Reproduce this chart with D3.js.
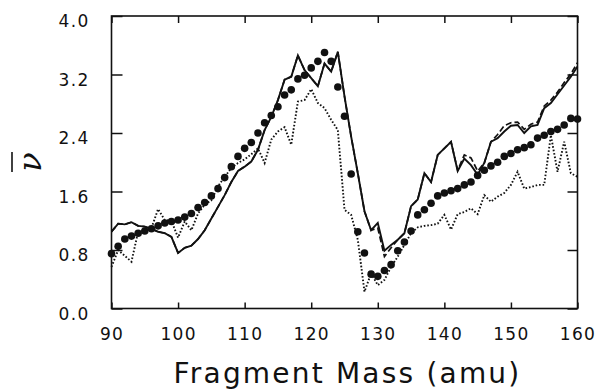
<!DOCTYPE html>
<html><head><meta charset="utf-8">
<script src="https://cdn.jsdelivr.net/npm/d3@7"></script>
<style>
html,body{margin:0;padding:0;background:#fff;}
svg{display:block;}
text{fill:#111;font-family:"DejaVu Sans",sans-serif;}
</style></head>
<body>
<svg id="chart" width="600" height="391"></svg>
<script>
const masses = [90,91,92,93,94,95,96,97,98,99,100,101,102,103,104,105,106,107,108,109,110,
  111,112,113,114,115,116,117,118,119,120,121,122,123,124,125,126,127,128,129,130,
  131,132,133,134,135,136,137,138,139,140,141,142,143,144,145,146,147,148,149,150,
  151,152,153,154,155,156,157,158,159,160];

// filled circles
const dotValues = [0.75,0.85,0.95,0.99,1.03,1.06,1.09,1.13,1.17,1.19,1.21,1.25,1.30,1.38,1.45,1.54,1.64,1.79,1.94,2.08,2.19,
  2.27,2.40,2.54,2.64,2.76,2.92,2.99,3.14,3.19,3.29,3.38,3.50,3.38,3.03,2.63,1.84,1.05,0.76,0.47,0.44,
  0.52,0.60,0.79,0.91,1.06,1.28,1.35,1.44,1.54,1.58,1.61,1.64,1.69,1.73,1.82,1.89,1.95,2.00,2.08,2.12,
  2.17,2.20,2.24,2.33,2.37,2.42,2.45,2.51,2.60,2.59];

// solid line
const solidValues = [1.05,1.16,1.15,1.18,1.13,1.12,1.09,1.05,1.03,0.98,0.76,0.83,0.86,0.95,1.07,1.23,1.39,1.55,1.73,1.88,1.94,
  2.01,2.17,2.44,2.62,2.85,3.13,3.17,3.46,3.26,3.15,3.04,3.35,3.24,3.51,2.90,2.35,1.85,1.33,1.07,1.17,
  0.79,0.87,0.94,1.03,1.40,1.49,1.85,1.73,2.10,2.19,2.28,1.88,2.05,1.96,1.83,1.99,2.28,2.33,2.42,2.50,
  2.51,2.40,2.49,2.51,2.74,2.81,2.93,3.05,3.17,3.31];

// dashed line
const dashedValues = [1.05,1.16,1.15,1.18,1.13,1.12,1.09,1.05,1.03,0.98,0.76,0.83,0.86,0.95,1.07,1.23,1.39,1.55,1.73,1.88,1.94,
  2.01,2.17,2.44,2.62,2.85,3.13,3.17,3.46,3.26,3.15,3.04,3.35,3.24,3.51,2.90,2.35,1.85,1.33,1.07,1.10,
  0.71,0.83,0.94,1.03,1.40,1.49,1.85,1.73,2.10,2.19,2.28,1.89,2.10,2.06,1.88,1.99,2.28,2.38,2.50,2.54,
  2.55,2.45,2.52,2.55,2.77,2.85,2.96,3.09,3.21,3.36];

// dotted line
const dottedValues = [0.57,0.80,0.72,0.64,1.05,1.07,1.10,1.36,1.21,1.20,0.97,1.19,1.07,1.30,1.42,1.48,1.67,1.80,1.92,1.99,2.04,
  2.11,2.19,1.99,2.31,2.42,2.48,2.24,2.83,2.85,3.00,2.81,2.74,2.58,2.44,1.35,1.28,0.94,0.23,0.48,0.32,
  0.39,0.57,0.71,0.87,1.03,1.11,1.13,1.14,1.16,1.28,1.08,1.29,1.32,1.37,1.29,1.55,1.46,1.53,1.58,1.69,
  1.87,1.64,1.66,1.69,1.69,2.37,1.87,2.28,1.85,1.80];

const xTicks = [90,100,110,120,130,140,150,160];
const yTicks = [0.0,0.8,1.6,2.4,3.2,4.0];
const xTitle = "Fragment Mass (amu)";
const yTitle = "ν";

const L = 111.5, R = 577.5, T = 16, B = 308.5;
const svg = d3.select("#chart");
const x = d3.scaleLinear().domain([90,160]).range([L,R]);
const y = d3.scaleLinear().domain([0,4]).range([B,T]);

// frame
svg.append("rect").attr("x",L).attr("y",T).attr("width",R-L).attr("height",B-T)
  .attr("fill","none").attr("stroke","#111").attr("stroke-width",1.6);

// axes with inward ticks
const fmt = d3.format(".1f");
const gl = svg.append("g").attr("transform",`translate(${L},0)`)
  .call(d3.axisLeft(y).tickValues(yTicks).tickSize(-11).tickFormat(fmt).tickPadding(22));
const gr = svg.append("g").attr("transform",`translate(${R},0)`)
  .call(d3.axisRight(y).tickValues(yTicks).tickSize(-10).tickFormat(""));
const gb = svg.append("g").attr("transform",`translate(0,${B})`)
  .call(d3.axisBottom(x).tickValues(xTicks).tickSize(-6).tickFormat(d3.format("d")).tickPadding(19));
const gt = svg.append("g").attr("transform",`translate(0,${T})`)
  .call(d3.axisTop(x).tickValues(xTicks).tickSize(-7).tickFormat(""));
[gl,gr,gb,gt].forEach(g=>{
  g.select(".domain").remove();
  g.selectAll(".tick line").attr("stroke","#111").attr("stroke-width",1.5);
  g.selectAll("text").attr("fill","#111").style("font-family","'DejaVu Sans',sans-serif")
    .style("font-size","17px").style("letter-spacing","1.3px");
});
gl.selectAll("text").attr("dy","0.62em");
gb.selectAll("text").attr("dy","0.71em");

// lines
const mk = vals => d3.line().x((d,i)=>x(masses[i])).y(d=>y(d))(vals);
svg.append("path").attr("d",mk(dottedValues)).attr("fill","none").attr("stroke","#111")
  .attr("stroke-width",1.9).attr("stroke-dasharray","1.6,1.9");
svg.append("path").attr("d",mk(dashedValues)).attr("fill","none").attr("stroke","#111")
  .attr("stroke-width",1.7).attr("stroke-dasharray","6,3");
svg.append("path").attr("d",mk(solidValues)).attr("fill","none").attr("stroke","#111")
  .attr("stroke-width",1.9).attr("stroke-linejoin","miter");

// dots
svg.append("g").selectAll("circle").data(dotValues).join("circle")
  .attr("cx",(d,i)=>x(masses[i])).attr("cy",d=>y(d)).attr("r",3.8).attr("fill","#111");

// x title
svg.append("text").attr("x",(L+R)/2+3).attr("y",383).attr("text-anchor","middle")
  .style("font-size","28px").style("letter-spacing","2.2px").text(xTitle);

// y title: nu with overbar, rotated
const yt = svg.append("g").attr("transform","translate(30,162) rotate(-90)");
yt.append("text").attr("x",0).attr("y",0).attr("text-anchor","middle").attr("dy","0.35em")
  .style("font-family","'DejaVu Serif',serif").style("font-style","italic").style("font-size","32px")
  .text(yTitle);
yt.append("line").attr("x1",-10).attr("x2",10).attr("y1",-18).attr("y2",-18)
  .attr("stroke","#111").attr("stroke-width",1.6);
</script>
</body></html>
